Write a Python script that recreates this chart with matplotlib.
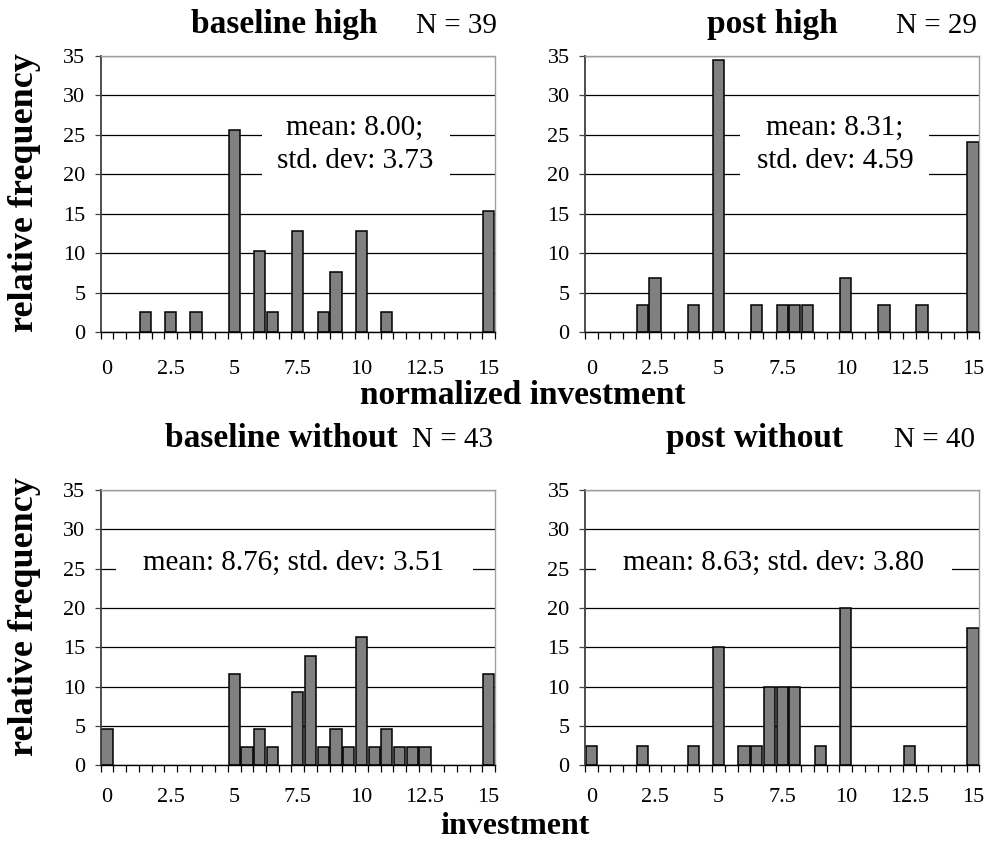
import matplotlib
matplotlib.use("Agg")
import matplotlib.pyplot as plt
from matplotlib.patches import Rectangle
import numpy as np

plt.rcParams['font.family'] = ['Liberation Serif', 'DejaVu Serif']

# investment categories (0 to 15 in steps of 0.5)
categories = ['0', '0.5', '1', '1.5', '2', '2.5', '3', '3.5', '4', '4.5',
              '5', '5.5', '6', '6.5', '7', '7.5', '8', '8.5', '9', '9.5',
              '10', '10.5', '11', '11.5', '12', '12.5', '13', '13.5', '14', '14.5',
              '15']
tick_labels = ['0', '2.5', '5', '7.5', '10', '12.5', '15']

# relative frequencies (%) per category
baseline_high = [0, 0, 0, 2.56, 0, 2.56, 0, 2.56, 0, 0,
                 25.64, 0, 10.26, 2.56, 0, 12.82, 0, 2.56, 7.69, 0,
                 12.82, 0, 2.56, 0, 0, 0, 0, 0, 0, 0,
                 15.38]
post_high = [0, 0, 0, 0, 3.45, 6.90, 0, 0, 3.45, 0,
             34.48, 0, 0, 3.45, 0, 3.45, 3.45, 3.45, 0, 0,
             6.90, 0, 0, 3.45, 0, 0, 3.45, 0, 0, 0,
             24.14]
baseline_without = [4.65, 0, 0, 0, 0, 0, 0, 0, 0, 0,
                    11.63, 2.33, 4.65, 2.33, 0, 9.30, 13.95, 2.33, 4.65, 2.33,
                    16.28, 2.33, 4.65, 2.33, 2.33, 2.33, 0, 0, 0, 0,
                    11.63]
post_without = [2.5, 0, 0, 0, 2.5, 0, 0, 0, 2.5, 0,
                15.0, 0, 2.5, 2.5, 10.0, 10.0, 10.0, 0, 2.5, 0,
                20.0, 0, 0, 0, 0, 2.5, 0, 0, 0, 0,
                17.5]

titles = ['baseline high', 'post high', 'baseline without', 'post without']
sample_sizes = [39, 29, 43, 40]
stats_text = ['mean: 8.00;\nstd. dev: 3.73',
              'mean: 8.31;\nstd. dev: 4.59',
              'mean: 8.76; std. dev: 3.51',
              'mean: 8.63; std. dev: 3.80']

W, H = 985, 841
fig = plt.figure(figsize=(W / 100, H / 100), dpi=100)


def fx(x):
    return x / W


def fy(y):
    return 1 - y / H


def make_axes(left, top, right, bottom):
    return fig.add_axes([fx(left), fy(bottom), fx(right - left), (bottom - top) / H])


axes = [make_axes(100.7, 56, 495, 332.3),
        make_axes(585, 56, 979.3, 332.3),
        make_axes(100.7, 490, 495, 765.3),
        make_axes(585, 490, 979.3, 765.3)]

series = [baseline_high, post_high, baseline_without, post_without]
label_pads = [20, 20, 16, 16]

# white boxes behind the summary text, in axes fractions
box_specs = [(0.409, 0.515, 0.886, 0.823),
             (0.393, 0.515, 0.872, 0.823),
             (0.039, 0.655, 0.943, 0.800),
             (0.028, 0.655, 0.931, 0.800)]
text_pos = [(0.645, 0.680), (0.634, 0.680), (0.488, 0.735), (0.477, 0.735)]

x = np.arange(len(categories))
for ax, vals, box, tp, st, lp in zip(axes, series, box_specs, text_pos,
                                     stats_text, label_pads):
    ax.set_axisbelow(True)
    vals = np.asarray(vals, dtype=float)
    # empty categories get no outline so the baseline stays clean
    edge_w = np.where(vals > 0, 1.1, 0.0)
    ax.bar(x, vals, width=0.88, color='#808080', edgecolor='black',
           linewidth=edge_w, zorder=2)
    ax.set_xlim(-0.5, len(categories) - 0.5)
    ax.set_ylim(0, 35)
    ax.set_yticks(np.arange(0, 36, 5))
    ax.yaxis.grid(True, color='black', linewidth=0.9)
    ax.set_xticks(x[::5])
    ax.set_xticklabels(tick_labels)
    ax.set_xticks(np.arange(-0.5, len(categories), 1.0), minor=True)
    ax.tick_params(axis='x', which='major', length=0, pad=lp, labelsize=16)
    ax.tick_params(axis='x', which='minor', length=5, width=0.9,
                   direction='out', color='black')
    ax.tick_params(axis='y', length=4, width=0.9, pad=7, labelsize=16,
                   color='#404040')
    ax.spines['left'].set_color('#404040')
    ax.spines['left'].set_linewidth(1.3)
    ax.spines['bottom'].set_color('black')
    ax.spines['bottom'].set_linewidth(1.0)
    for s in ('top', 'right'):
        ax.spines[s].set_color('#a0a0a0')
        ax.spines[s].set_linewidth(1.0)
    x0, y0, x1, y1 = box
    ax.add_patch(Rectangle((x0, y0), x1 - x0, y1 - y0, transform=ax.transAxes,
                           facecolor='white', edgecolor='none', zorder=3))
    ax.text(tp[0], tp[1], st, transform=ax.transAxes, ha='center', va='center',
            fontsize=21, linespacing=1.4, zorder=4)

# panel titles and sample sizes
title_xy = [(284, 33), (772, 33), (281, 447), (755, 447)]
n_xy = [(456, 33), (937, 33), (453, 447), (934, 447)]
for t, n, (tx, ty), (nx, ny) in zip(titles, sample_sizes, title_xy, n_xy):
    fig.text(fx(tx), fy(ty), t, ha='center', va='baseline',
             fontsize=24, fontweight='bold')
    fig.text(fx(nx), fy(ny), f'N = {n}', ha='center', va='baseline', fontsize=21)

# shared axis labels
fig.text(fx(523), fy(404), 'normalized investment', ha='center', va='baseline',
         fontsize=24, fontweight='bold')
fig.text(fx(515), fy(834), 'investment', ha='center', va='baseline',
         fontsize=23, fontweight='bold')
fig.text(fx(25), fy(193), 'relative frequency', ha='center', va='center',
         rotation=90, fontsize=26, fontweight='bold')
fig.text(fx(25), fy(617), 'relative frequency', ha='center', va='center',
         rotation=90, fontsize=26, fontweight='bold')

fig.savefig('out.png', dpi=100, facecolor='white')
